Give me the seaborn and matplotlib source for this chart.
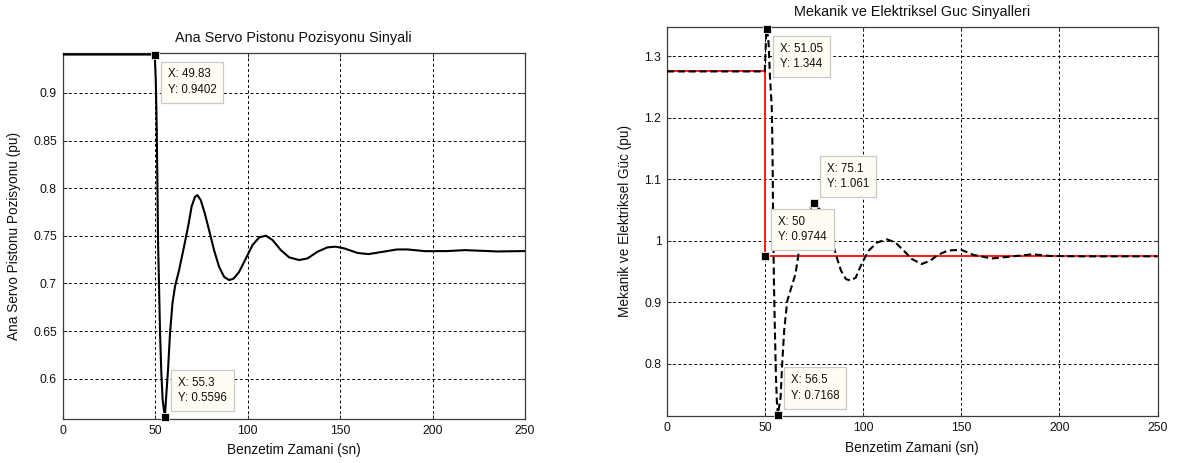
import matplotlib
matplotlib.use("Agg")
import matplotlib.pyplot as plt
import matplotlib.ticker as mticker
import pandas as pd
import seaborn as sns

# ---------------- data ----------------
servo_t = [0, 49.83, 50.4, 50.9, 51.3, 51.6, 52.2, 52.7, 53.4, 54.1,
           55.3, 55.9, 57.0, 58.1, 59.4, 60.8, 63.0, 65.7, 67.9, 69.8,
           71.6, 72.9, 74.7, 76.9, 79.2, 81.9, 84.6, 87.3, 90.0, 92.4,
           95.4, 99.1, 102.7, 106.3, 109.9, 113.5, 118.0, 122.5, 127.9, 132.4,
           137.8, 143.2, 147.7, 152.3, 155.9, 159.5, 165.3, 173.0, 180.8, 186.6,
           196.0, 208.0, 217.5, 235.0, 250.0]
servo_y = [0.9402, 0.9402, 0.913, 0.864, 0.801, 0.746, 0.693, 0.648, 0.606, 0.578,
           0.5596, 0.578, 0.609, 0.648, 0.679, 0.697, 0.714, 0.739, 0.760, 0.781,
           0.791, 0.7927, 0.7875, 0.7735, 0.756, 0.735, 0.7176, 0.707, 0.7036, 0.705,
           0.712, 0.7263, 0.7403, 0.7484, 0.7501, 0.7456, 0.735, 0.7274, 0.7246, 0.7263,
           0.7333, 0.7379, 0.7386, 0.7368, 0.7344, 0.732, 0.7308, 0.7332, 0.7357, 0.7357,
           0.7339, 0.734, 0.735, 0.7336, 0.734]

mech_t = [0, 50, 50, 250]
mech_p = [1.275, 1.275, 0.9744, 0.9744]

elec_t = [0, 49.9, 50.0, 50.5, 51.05, 51.8, 52.5, 53.4, 53.7, 53.9,
          54.0, 54.5, 55.0, 55.5, 56.0, 56.5, 57.9, 58.7, 59.7, 61.3,
          63.4, 65.5, 66.8, 67.6, 70.0, 72.5, 75.1, 78.0, 81.0, 84.5,
          86.5, 88.7, 91.2, 93.7, 96.2, 99.6, 102.9, 107.1, 112.2, 116.4,
          120.6, 124.8, 129.8, 134.0, 138.2, 143.3, 150.0, 156.3, 165.6, 175.0,
          186.2, 195.5, 210.0, 250.0]
elec_p = [1.275, 1.275, 1.288, 1.3315, 1.344, 1.32, 1.266, 1.217, 1.163, 1.109,
          1.065, 0.935, 0.853, 0.783, 0.739, 0.7168, 0.745, 0.799, 0.853, 0.902,
          0.924, 0.946, 0.973, 0.9946, 1.025, 1.050, 1.061, 1.050, 1.025, 0.995,
          0.973, 0.951, 0.9375, 0.935, 0.94, 0.965, 0.984, 0.997, 1.002, 0.997,
          0.984, 0.970, 0.962, 0.967, 0.977, 0.984, 0.985, 0.9767, 0.971, 0.974,
          0.9778, 0.975, 0.9744, 0.9744]

servo_tip_x = [49.83, 55.3]
servo_tip_y = [0.9402, 0.5596]
servo_tip_side = ["below", "above"]

power_tip_x = [51.05, 75.1, 50, 56.5]
power_tip_y = [1.344, 1.061, 0.9744, 0.7168]
power_tip_side = ["below", "above", "above", "above"]

x_ticks = [0, 50, 100, 150, 200, 250]
servo_yticks = [0.6, 0.65, 0.7, 0.75, 0.8, 0.85, 0.9]
power_yticks = [0.8, 0.9, 1.0, 1.1, 1.2, 1.3]

title_left = "Ana Servo Pistonu Pozisyonu Sinyali"
title_right = "Mekanik ve Elektriksel Guc Sinyalleri"
xlabel = "Benzetim Zamani (sn)"
ylabel_left = "Ana Servo Pistonu Pozisyonu (pu)"
ylabel_right = "Mekanik ve Elektriksel Güc (pu)"

# ---------------- style ----------------
sns.set_theme(style="white")
plt.rcParams["font.family"] = ["Liberation Sans", "DejaVu Sans"]
plt.rcParams["axes.unicode_minus"] = False

TICK_FS = 8.8
LABEL_FS = 9.8
TITLE_FS = 10.4
TIP_FS = 8.3

fig = plt.figure(figsize=(11.78, 4.63), dpi=100)
fig.patch.set_facecolor("white")
ax1 = fig.add_axes([0.0531, 0.0950, 0.3926, 0.7905])
ax2 = fig.add_axes([0.5662, 0.1015, 0.4164, 0.8408])


def style_axes(ax, ylim, yticks, title, ylab, xlab_y, ylab_x):
    ax.set_facecolor("white")
    ax.set_xlim(0, 250)
    ax.set_ylim(*ylim)
    ax.set_xticks(x_ticks)
    ax.set_yticks(yticks)
    ax.xaxis.set_major_formatter(mticker.FuncFormatter(lambda v, p: f"{v:g}"))
    ax.yaxis.set_major_formatter(mticker.FuncFormatter(lambda v, p: f"{v:g}"))
    ax.tick_params(axis="both", which="both", direction="in", length=3, width=0.8,
                   colors="#333333", labelcolor="#111111", labelsize=TICK_FS, pad=4,
                   top=True, right=True, bottom=True, left=True)
    for s in ax.spines.values():
        s.set_visible(True)
        s.set_color("#3c3c3c")
        s.set_linewidth(0.9)
    ax.grid(True, color="black", linestyle=(0, (3, 2.5)), linewidth=0.7)
    ax.set_axisbelow(True)
    ax.set_title(title, fontsize=TITLE_FS, color="#111111", pad=7.8)
    ax.set_xlabel(xlabel, fontsize=LABEL_FS, color="#111111", va="center")
    ax.set_ylabel(ylab, fontsize=LABEL_FS, color="#111111", va="center")
    ax.xaxis.set_label_coords(0.5, xlab_y)
    ax.yaxis.set_label_coords(ylab_x, 0.5)


def datatips(ax, xs, ys, sides):
    df = pd.DataFrame({"x": xs, "y": ys})
    sns.scatterplot(data=df, x="x", y="y", ax=ax, marker="s", s=34, color="black",
                    edgecolor="#f4f0e0", linewidth=0.6, zorder=7, clip_on=False,
                    legend=False)
    for x, y, side in zip(xs, ys, sides):
        txt = f"X: {x:g}\nY: {y:g}"
        if side == "below":
            off, va = (9.3, -10.0), "top"
        else:
            off, va = (9.3, 9.3), "bottom"
        ax.annotate(txt, xy=(x, y), xytext=off, textcoords="offset points",
                    ha="left", va=va, fontsize=TIP_FS, color="#111111", linespacing=1.4,
                    bbox=dict(boxstyle="square,pad=0.6", fc="#FFFDF3", ec="#C9C9C9",
                              lw=0.9),
                    zorder=6, annotation_clip=False)


# ---------------- left chart ----------------
sns.lineplot(x=servo_t, y=servo_y, ax=ax1, color="black", linewidth=1.5,
             sort=False, estimator=None, zorder=3)
style_axes(ax1, (0.5578, 0.9418), servo_yticks, title_left, ylabel_left,
           -0.084, -0.104)
datatips(ax1, servo_tip_x, servo_tip_y, servo_tip_side)

# ---------------- right chart ----------------
sns.lineplot(x=mech_t, y=mech_p, ax=ax2, color="#ff1a1a", linewidth=1.4,
             sort=False, estimator=None, zorder=3)
sns.lineplot(x=elec_t, y=elec_p, ax=ax2, color="black", linewidth=1.5,
             sort=False, estimator=None, zorder=4, dashes=False)
ax2.lines[-1].set_linestyle((0, (3.4, 1.8)))
style_axes(ax2, (0.7149, 1.3477), power_yticks, title_right, ylabel_right,
           -0.082, -0.086)
datatips(ax2, power_tip_x, power_tip_y, power_tip_side)

fig.savefig("out.png", dpi=100, facecolor="white")
